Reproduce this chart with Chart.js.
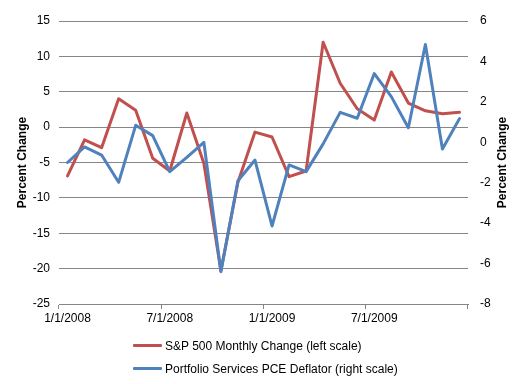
<!DOCTYPE html>
<html>
<head>
<meta charset="utf-8">
<script src="https://cdn.jsdelivr.net/npm/chart.js@4.4.0/dist/chart.umd.min.js"></script>
<style>
  html, body { margin: 0; padding: 0; background: #ffffff; }
  #wrap { position: relative; width: 527px; height: 384px; }
  #legend { position: absolute; left: 133px; top: 334px; font: 12px "Liberation Sans", Arial, sans-serif; color: #000; }
  .item { display: flex; align-items: center; height: 23px; white-space: nowrap; }
  .swatch { width: 29px; height: 3px; margin-right: 3px; border-radius: 1px; }
</style>
</head>
<body>
<div id="wrap">
  <canvas id="chart" width="527" height="384"></canvas>
  <div id="legend"></div>
</div>
<script>
// Monthly categories, Jan 2008 - Dec 2009
const months = [
  "1/1/2008", "2/1/2008", "3/1/2008", "4/1/2008", "5/1/2008", "6/1/2008",
  "7/1/2008", "8/1/2008", "9/1/2008", "10/1/2008", "11/1/2008", "12/1/2008",
  "1/1/2009", "2/1/2009", "3/1/2009", "4/1/2009", "5/1/2009", "6/1/2009",
  "7/1/2009", "8/1/2009", "9/1/2009", "10/1/2009", "11/1/2009", "12/1/2009"
];

// S&P 500 monthly change, left scale (%)
const spChange = [
  -6.9, -1.8, -2.9, 4.0, 2.4, -4.4, -6.2, 2.0, -5.1, -20.3, -7.8, -0.7,
  -1.4, -7.0, -6.2, 12.0, 6.2, 2.6, 1.0, 7.8, 3.4, 2.3, 1.9, 2.1
];

// Portfolio services PCE deflator, right scale (%)
const pceDeflator = [
  -1.0, -0.23, -0.63, -1.98, 0.84, 0.33, -1.45, -0.75, 0.0, -6.4, -1.9, -0.88,
  -4.14, -1.12, -1.45, -0.08, 1.48, 1.19, 3.4, 2.26, 0.72, 4.84, -0.33, 1.17
];

const seriesNames = [
  "S&P 500 Monthly Change (left scale)",
  "Portfolio Services PCE Deflator (right scale)"
];
const colors = ["#c0504d", "#4f81bd"];
const gridColor = "#868686";
const fontFamily = "'Liberation Sans', Arial, sans-serif";

// right axis title reads bottom-to-top like the left one
const rightTitlePlugin = {
  id: "rightTitle",
  afterDraw(chart) {
    const area = chart.chartArea;
    const ctx = chart.ctx;
    ctx.save();
    ctx.translate(chart.width - 24, (area.top + area.bottom) / 2);
    ctx.rotate(-Math.PI / 2);
    ctx.font = "bold 12px " + fontFamily;
    ctx.fillStyle = "#000";
    ctx.textAlign = "center";
    ctx.textBaseline = "middle";
    ctx.fillText("Percent Change", 0, 0);
    ctx.restore();
  }
};

const ctx = document.getElementById("chart").getContext("2d");
new Chart(ctx, {
  type: "line",
  data: {
    labels: months,
    datasets: [{
      label: seriesNames[0],
      data: spChange,
      yAxisID: "y",
      borderColor: colors[0],
      borderWidth: 3,
      pointRadius: 0,
      tension: 0,
      borderJoinStyle: "round",
      borderCapStyle: "round",
      order: 2
    }, {
      label: seriesNames[1],
      data: pceDeflator,
      yAxisID: "y2",
      borderColor: colors[1],
      borderWidth: 3,
      pointRadius: 0,
      tension: 0,
      borderJoinStyle: "round",
      borderCapStyle: "round",
      order: 1
    }]
  },
  options: {
    responsive: false,
    animation: false,
    layout: { padding: { left: 10, right: 36, top: 21, bottom: 56.6 } },
    plugins: {
      legend: { display: false },
      tooltip: { enabled: false }
    },
    scales: {
      x: {
        offset: true,
        grid: {
          offset: true,
          drawOnChartArea: false,
          drawTicks: true,
          tickLength: 5,
          color: c => (c.index === undefined || c.index % 6 === 0) ? gridColor : "rgba(0,0,0,0)"
        },
        border: { display: true, color: gridColor },
        ticks: {
          autoSkip: false,
          maxRotation: 0,
          padding: 2,
          color: "#000",
          font: { size: 12, family: fontFamily },
          callback: function(v, i) { return i % 6 === 0 ? this.getLabelForValue(v) : ""; }
        }
      },
      y: {
        position: "left",
        min: -25,
        max: 15,
        afterFit: s => { s.width = 49; },
        ticks: { stepSize: 5, padding: 9, color: "#000", font: { size: 12, family: fontFamily } },
        grid: { color: gridColor, drawTicks: false },
        border: { display: false },
        title: {
          display: true,
          text: "Percent Change",
          color: "#000",
          font: { size: 12, weight: "bold", family: fontFamily },
          padding: { top: 5, bottom: 4 }
        }
      },
      y2: {
        position: "right",
        min: -8,
        max: 6,
        afterFit: s => { s.width = 23; },
        ticks: { stepSize: 2, padding: 12, color: "#000", font: { size: 12, family: fontFamily } },
        grid: { drawOnChartArea: false, drawTicks: false },
        border: { display: false }
      }
    }
  },
  plugins: [rightTitlePlugin]
});

// HTML legend, stacked like the original
document.getElementById("legend").innerHTML = seriesNames.map((name, i) => `
  <div class="item">
    <span class="swatch" style="background-color: ${colors[i]}"></span>
    <span>${name}</span>
  </div>
`).join("");
</script>
</body>
</html>
